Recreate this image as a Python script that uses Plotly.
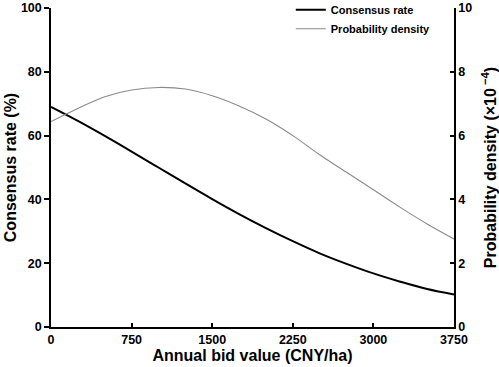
import plotly.graph_objects as go

bid = [0, 250, 500, 750, 1000, 1250, 1500, 1750, 2000, 2250, 2500, 2750, 3000, 3250, 3500, 3750]
consensus = [69.0, 64.6, 59.9, 55.0, 50.0, 45.0, 40.1, 35.4, 31.0, 26.9, 23.1, 19.8, 16.8, 14.2, 11.9, 10.2]
density = [6.44, 6.85, 7.22, 7.43, 7.51, 7.46, 7.25, 6.93, 6.52, 6.00, 5.40, 4.85, 4.30, 3.75, 3.23, 2.76]

x_ticks = [0, 750, 1500, 2250, 3000, 3750]
y_ticks = [0, 20, 40, 60, 80, 100]
y2_ticks = [0, 2, 4, 6, 8, 10]

FONT = "Liberation Sans, Arial, sans-serif"

fig = go.Figure()
fig.add_trace(go.Scatter(x=bid, y=consensus, mode="lines", name="Consensus rate",
                         line=dict(color="black", width=2, shape="spline"), yaxis="y"))
fig.add_trace(go.Scatter(x=bid, y=density, mode="lines", name="Probability density",
                         line=dict(color="#8a8a8a", width=1.1, shape="spline"), yaxis="y2"))

axis_font = dict(family=FONT, size=12.5, color="black", weight="bold")
title_font = dict(family=FONT, size=16, color="black", weight="bold")

fig.update_layout(
    width=499, height=367,
    margin=dict(l=51, r=45, t=8, b=40, autoexpand=False),
    paper_bgcolor="white", plot_bgcolor="white",
    showlegend=True,
    legend=dict(x=0.595, y=1.04, xanchor="left", yanchor="top",
                font=dict(family=FONT, size=11, color="black", weight="bold"),
                bgcolor="rgba(0,0,0,0)", tracegroupgap=0, itemwidth=30),
    xaxis=dict(range=[0, 3750], tickvals=x_ticks, ticktext=[str(v) for v in x_ticks],
               showline=True, linecolor="black", linewidth=1.5, mirror=False,
               ticks="inside", ticklen=4, tickwidth=1.5, tickcolor="black",
               showgrid=False, zeroline=False, tickfont=axis_font, automargin=False,
               title=dict(text="Annual bid value (CNY/ha)", font=title_font, standoff=2)),
    yaxis=dict(range=[0, 100], tickvals=y_ticks, automargin=False,
               showline=True, linecolor="black", linewidth=1.5,
               ticks="outside", ticklen=5, tickwidth=1.5, tickcolor="black",
               showgrid=False, zeroline=False, tickfont=axis_font, ticklabelstandoff=0,
               title=dict(text="Consensus rate (%)", font=title_font, standoff=0)),
    yaxis2=dict(range=[0, 10], tickvals=y2_ticks, overlaying="y", side="right", automargin=False,
                showline=True, linecolor="black", linewidth=1.5,
                ticks="inside", ticklen=4, tickwidth=1.5, tickcolor="black",
                showgrid=False, zeroline=False, tickfont=axis_font,
                title=dict(text="Probability density (×10<sup> −4</sup>)", font=title_font, standoff=16)),
)

fig.write_html("out.html", config={"displayModeBar": False},
               post_script="document.body.style.margin='0px';document.body.style.overflow='hidden';")
